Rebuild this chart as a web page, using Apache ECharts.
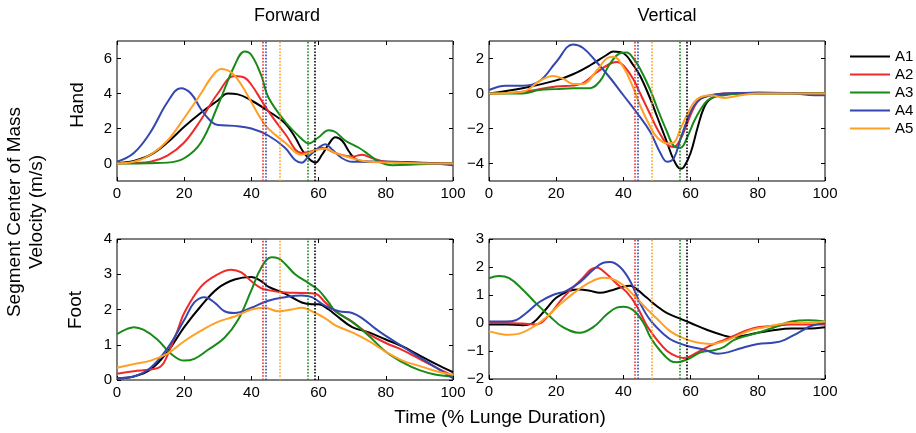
<!DOCTYPE html>
<html>
<head>
<meta charset="utf-8">
<script src="https://cdn.jsdelivr.net/npm/echarts@6/dist/echarts.min.js"></script>
<style>
  html, body { margin: 0; padding: 0; background: #fff; }
  #chart { width: 916px; height: 433px; }
</style>
</head>
<body>
<div id="chart"></div>
<script>
// series names and colours
const names = ['A1', 'A2', 'A3', 'A4', 'A5'];
const colors = ['#000000', '#ee2a2a', '#178a17', '#3447b0', '#ffa024'];

// end of lunge phase per subject (% lunge duration), dotted lines
const phaseEnd = [58.8, 43.3, 56.9, 44.3, 48.4];

// x tick labels
const timeTicks = [0, 20, 40, 60, 80, 100];

// Forward / Hand  [time, velocity]
const fwdHandA1 = [[0,0.02],[5,0.15],[10,0.5],[15,1.2],[20,2.1],[25,2.9],[30,3.6],[33,4.0],[36,3.95],[40,3.6],[45,3.0],[50,2.3],[53,1.5],[55,0.8],[57,0.3],[59,0.05],[61,0.5],[63,1.1],[65,1.5],[67,1.3],[69,0.7],[71,0.25],[75,0.1],[80,0.1],[90,0.05],[100,0]];
const fwdHandA2 = [[0,0],[5,0.03],[10,0.1],[15,0.45],[20,1.2],[25,2.5],[30,4.0],[35,5.0],[38,4.9],[40,4.5],[43,3.6],[45,3.0],[50,1.7],[55,0.6],[58,0.7],[61,0.9],[65,0.6],[70,0.4],[73,0.5],[76,0.3],[80,0.1],[90,0.02],[100,0]];
const fwdHandA3 = [[0,0],[5,0],[10,0.02],[15,0.05],[20,0.3],[25,1.2],[30,3.3],[35,5.6],[38,6.4],[40,6.2],[43,5.0],[45,3.8],[50,2.4],[55,1.4],[57,1.15],[60,1.5],[63,1.9],[65,1.8],[68,1.3],[72,0.9],[75,0.5],[78,0.1],[82,-0.1],[90,-0.05],[100,0]];
const fwdHandA4 = [[0,0.1],[5,0.6],[10,1.8],[15,3.5],[19,4.3],[22,4.0],[25,3.1],[28,2.4],[30,2.2],[35,2.15],[40,2.0],[45,1.6],[50,0.9],[53,0.2],[55,0.05],[57,0.4],[60,0.9],[62,1.1],[64,0.8],[67,0.3],[70,0.1],[80,0.1],[90,0.05],[100,-0.1]];
const fwdHandA5 = [[0,0],[5,0.1],[10,0.5],[15,1.3],[20,2.6],[25,4.0],[28,4.9],[31,5.4],[34,5.2],[37,4.5],[40,3.5],[43,2.5],[45,2.0],[50,1.2],[55,0.5],[57,0.6],[60,0.8],[62,0.85],[65,0.6],[70,0.3],[75,0.1],[100,0]];

// Vertical / Hand
const vertHandA1 = [[0,0],[10,0.3],[20,0.75],[25,1.1],[30,1.6],[35,2.2],[37,2.4],[40,2.3],[43,1.6],[45,1.0],[48,-0.3],[50,-1.3],[53,-2.8],[55,-3.8],[57,-4.3],[58,-4.2],[60,-3.4],[62,-2.0],[64,-0.8],[66,-0.3],[70,-0.05],[80,0.05],[100,0]];
const vertHandA2 = [[0,0],[10,0.1],[20,0.4],[25,0.45],[28,0.6],[32,1.2],[36,1.7],[38,1.8],[40,1.6],[43,0.8],[45,0.0],[48,-1.2],[50,-2.0],[53,-2.9],[55,-3.05],[57,-2.6],[59,-1.7],[61,-0.8],[63,-0.3],[66,-0.1],[70,0],[100,0]];
const vertHandA3 = [[0,0],[10,0.0],[15,0.2],[20,0.25],[25,0.3],[30,0.3],[33,0.7],[36,1.7],[39,2.3],[41,2.35],[43,2.0],[45,1.4],[48,0.2],[50,-0.8],[53,-2.2],[55,-3.0],[57,-3.1],[59,-2.5],[61,-1.6],[63,-0.9],[65,-0.4],[67,-0.2],[70,-0.1],[75,0],[100,0]];
const vertHandA4 = [[0,0.2],[5,0.45],[10,0.45],[15,0.7],[20,1.8],[25,2.8],[28,2.6],[32,1.8],[36,0.9],[40,-0.1],[44,-1.1],[48,-2.2],[51,-3.4],[53,-3.9],[55,-3.7],[57,-2.6],[59,-1.5],[61,-0.7],[63,-0.3],[66,-0.1],[70,0],[80,0.05],[90,0.02],[97,-0.1],[100,-0.1]];
const vertHandA5 = [[0,0],[10,0.1],[15,0.7],[19,1.0],[22,0.85],[25,0.55],[28,0.55],[32,1.3],[35,2.0],[37,2.1],[40,1.5],[43,0.3],[45,-0.7],[48,-1.9],[50,-2.5],[53,-2.85],[55,-2.8],[57,-2.0],[59,-1.2],[61,-0.5],[63,-0.2],[66,-0.1],[70,-0.25],[75,-0.1],[80,0],[100,0]];

// Forward / Foot
const fwdFootA1 = [[0,0.05],[5,0.1],[10,0.3],[15,0.8],[20,1.5],[25,2.1],[30,2.6],[35,2.85],[40,2.92],[43,2.8],[45,2.65],[50,2.45],[55,2.2],[58,2.15],[60,2.15],[63,2.0],[65,1.85],[70,1.5],[75,1.35],[80,1.15],[85,0.95],[90,0.7],[95,0.45],[100,0.22]];
const fwdFootA2 = [[0,0.18],[5,0.25],[10,0.3],[13,0.38],[15,0.7],[18,1.4],[20,1.9],[25,2.65],[30,3.0],[34,3.13],[37,3.05],[40,2.8],[43,2.6],[45,2.55],[50,2.48],[55,2.47],[59,2.45],[62,2.2],[65,1.95],[70,1.65],[75,1.3],[80,1.05],[85,0.85],[90,0.6],[95,0.35],[100,0.12]];
const fwdFootA3 = [[0,1.3],[3,1.45],[5,1.5],[8,1.42],[12,1.15],[16,0.75],[20,0.55],[23,0.6],[27,0.85],[32,1.2],[36,1.7],[40,2.55],[43,3.2],[46,3.48],[48,3.45],[50,3.3],[53,3.0],[57,2.75],[60,2.55],[63,2.2],[65,1.95],[70,1.65],[75,1.25],[80,0.8],[85,0.5],[90,0.28],[95,0.15],[100,0.1]];
const fwdFootA4 = [[0,0.05],[5,0.1],[10,0.35],[15,0.9],[20,1.7],[23,2.2],[26,2.35],[29,2.2],[32,1.95],[35,1.9],[40,2.05],[45,2.25],[50,2.35],[55,2.4],[58,2.35],[62,2.1],[66,1.95],[70,1.9],[73,1.75],[77,1.45],[80,1.25],[85,0.95],[90,0.65],[95,0.35],[100,0.05]];
const fwdFootA5 = [[0,0.35],[5,0.45],[10,0.55],[15,0.75],[20,1.1],[25,1.4],[30,1.65],[35,1.8],[40,2.0],[44,2.05],[48,1.95],[52,2.0],[55,2.05],[58,1.95],[62,1.75],[65,1.55],[70,1.35],[75,1.1],[80,0.8],[85,0.55],[90,0.4],[95,0.25],[100,0.15]];

// Vertical / Foot
const vertFootA1 = [[0,-0.05],[5,-0.05],[10,-0.08],[13,0.0],[17,0.5],[20,0.9],[24,1.15],[27,1.2],[30,1.15],[33,1.08],[36,1.15],[40,1.3],[42,1.33],[44,1.2],[47,0.9],[50,0.6],[53,0.35],[57,0.15],[60,0.0],[65,-0.25],[70,-0.45],[72,-0.5],[76,-0.45],[80,-0.35],[85,-0.25],[90,-0.2],[95,-0.2],[100,-0.15]];
const vertFootA2 = [[0,0.0],[5,0.0],[10,-0.02],[14,-0.05],[18,0.3],[22,0.9],[27,1.5],[32,1.98],[35,1.75],[38,1.4],[41,1.1],[44,0.6],[47,-0.1],[50,-0.6],[53,-1.0],[56,-1.2],[58,-1.25],[62,-1.05],[66,-0.8],[70,-0.6],[73,-0.45],[77,-0.25],[80,-0.15],[85,-0.1],[90,-0.05],[95,-0.05],[100,-0.05]];
const vertFootA3 = [[0,1.6],[3,1.68],[6,1.6],[10,1.2],[14,0.7],[18,0.25],[22,-0.15],[27,-0.35],[31,-0.15],[35,0.3],[38,0.55],[40,0.58],[43,0.45],[46,0.0],[48,-0.5],[51,-1.0],[54,-1.35],[56,-1.4],[59,-1.3],[63,-1.05],[67,-0.97],[70,-0.85],[73,-0.6],[77,-0.45],[80,-0.35],[85,-0.15],[90,0.05],[95,0.1],[100,0.05]];
const vertFootA4 = [[0,0.05],[5,0.05],[8,0.1],[11,0.35],[15,0.75],[19,1.0],[23,1.15],[27,1.45],[31,1.9],[34,2.15],[36,2.18],[39,2.0],[42,1.5],[45,0.7],[48,0.1],[52,-0.4],[55,-0.65],[60,-0.85],[64,-0.95],[68,-1.1],[71,-1.05],[75,-0.9],[80,-0.75],[85,-0.7],[88,-0.6],[92,-0.35],[96,-0.1],[100,0.0]];
const vertFootA5 = [[0,-0.3],[3,-0.38],[6,-0.42],[9,-0.38],[13,-0.15],[17,0.2],[21,0.65],[25,1.05],[30,1.45],[34,1.62],[36,1.6],[40,1.35],[43,1.0],[47,0.5],[50,0.15],[54,-0.3],[58,-0.55],[62,-0.7],[66,-0.75],[70,-0.65],[74,-0.45],[78,-0.25],[82,-0.15],[86,-0.05],[90,0.0],[95,0.0],[100,0.05]];

// y axis tick labels per panel
const fwdHandTicks = [0, 2, 4, 6];
const vertHandTicks = [-4, -2, 0, 2];
const fwdFootTicks = [0, 1, 2, 3, 4];
const vertFootTicks = [-2, -1, 0, 1, 2, 3];

const panels = [
  { grid: { left: 117, top: 41, width: 336, height: 140 }, min: -1, max: 7, ticks: fwdHandTicks,
    data: [fwdHandA1, fwdHandA2, fwdHandA3, fwdHandA4, fwdHandA5] },
  { grid: { left: 489, top: 41, width: 336, height: 140 }, min: -5, max: 3, ticks: vertHandTicks,
    data: [vertHandA1, vertHandA2, vertHandA3, vertHandA4, vertHandA5] },
  { grid: { left: 117, top: 239, width: 336, height: 141 }, min: 0, max: 4, ticks: fwdFootTicks,
    data: [fwdFootA1, fwdFootA2, fwdFootA3, fwdFootA4, fwdFootA5] },
  { grid: { left: 489, top: 239, width: 336, height: 140 }, min: -2, max: 3, ticks: vertFootTicks,
    data: [vertFootA1, vertFootA2, vertFootA3, vertFootA4, vertFootA5] }
];

const font = 'Liberation Sans, Arial, sans-serif';
const minus = v => String(v).replace('-', '\u2212');
const tick = { show: true, inside: true, length: 4, lineStyle: { color: '#000' } };

const grids = [];
const xAxes = [];
const yAxes = [];
const series = [];

panels.forEach((p, i) => {
  grids.push(Object.assign({ show: true, borderColor: '#000', borderWidth: 1, backgroundColor: 'transparent' }, p.grid));

  // bottom axis with labels, top axis with ticks only
  xAxes.push({
    gridIndex: i, type: 'value', min: 0, max: 100, interval: 20,
    axisLine: { show: false, onZero: false },
    axisTick: Object.assign({ customValues: timeTicks }, tick),
    axisLabel: { color: '#000', fontSize: 15, fontFamily: font, margin: 5, customValues: timeTicks },
    splitLine: { show: false }
  });
  xAxes.push({
    gridIndex: i, type: 'value', min: 0, max: 100, interval: 20, position: 'top',
    axisLine: { show: false, onZero: false },
    axisTick: Object.assign({ customValues: timeTicks }, tick),
    axisLabel: { show: false },
    splitLine: { show: false }
  });

  yAxes.push({
    gridIndex: i, type: 'value', min: p.min, max: p.max, interval: 1,
    axisLine: { show: false, onZero: false },
    axisTick: Object.assign({ customValues: p.ticks }, tick),
    axisLabel: { color: '#000', fontSize: 15, fontFamily: font, margin: 5, customValues: p.ticks, formatter: minus },
    splitLine: { show: false }
  });
  yAxes.push({
    gridIndex: i, type: 'value', min: p.min, max: p.max, interval: 1, position: 'right',
    axisLine: { show: false, onZero: false },
    axisTick: Object.assign({ customValues: p.ticks }, tick),
    axisLabel: { show: false },
    splitLine: { show: false }
  });

  p.data.forEach((d, k) => {
    series.push({
      name: names[k],
      type: 'line',
      xAxisIndex: i * 2,
      yAxisIndex: i * 2,
      data: d,
      smooth: 0.4,
      showSymbol: false,
      symbol: 'none',
      lineStyle: { width: 2, color: colors[k] },
      itemStyle: { color: colors[k] },
      markLine: {
        silent: true,
        symbol: ['none', 'none'],
        label: { show: false },
        lineStyle: { type: 'dotted', width: 1.6, color: colors[k] },
        data: [{ xAxis: phaseEnd[k] }]
      }
    });
  });
});

const chart = echarts.init(document.getElementById('chart'), null, { renderer: 'canvas' });

chart.setOption({
  animation: false,
  backgroundColor: '#fff',
  textStyle: { fontFamily: font },
  grid: grids,
  xAxis: xAxes,
  yAxis: yAxes,
  legend: {
    data: names,
    orient: 'vertical',
    left: 845,
    top: 44,
    icon: 'rect',
    itemWidth: 40,
    itemHeight: 2,
    itemGap: 3,
    textStyle: { color: '#000', fontSize: 15, fontFamily: font }
  },
  graphic: [
    { type: 'text', x: 287, y: 16, style: { text: 'Forward', font: '18px ' + font, fill: '#000', textAlign: 'center', textVerticalAlign: 'middle' } },
    { type: 'text', x: 667, y: 16, style: { text: 'Vertical', font: '18px ' + font, fill: '#000', textAlign: 'center', textVerticalAlign: 'middle' } },
    { type: 'text', x: 500, y: 418, style: { text: 'Time (% Lunge Duration)', font: '19px ' + font, fill: '#000', textAlign: 'center', textVerticalAlign: 'middle' } },
    { type: 'text', x: 78, y: 105, rotation: Math.PI / 2, style: { text: 'Hand', font: '19px ' + font, fill: '#000', textAlign: 'center', textVerticalAlign: 'middle' } },
    { type: 'text', x: 76, y: 310, rotation: Math.PI / 2, style: { text: 'Foot', font: '19px ' + font, fill: '#000', textAlign: 'center', textVerticalAlign: 'middle' } },
    { type: 'text', x: 15, y: 212, rotation: Math.PI / 2, style: { text: 'Segment Center of Mass', font: '19px ' + font, fill: '#000', textAlign: 'center', textVerticalAlign: 'middle' } },
    { type: 'text', x: 37, y: 212, rotation: Math.PI / 2, style: { text: 'Velocity (m/s)', font: '19px ' + font, fill: '#000', textAlign: 'center', textVerticalAlign: 'middle' } }
  ],
  series: series
});
</script>
</body>
</html>
